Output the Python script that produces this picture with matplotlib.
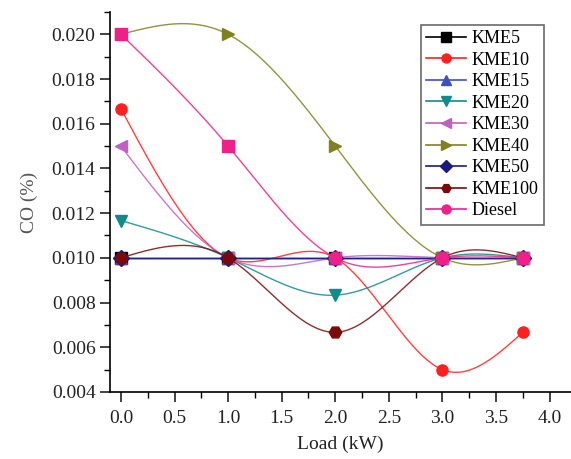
import numpy as np
import matplotlib.pyplot as plt
from matplotlib.ticker import MultipleLocator, FormatStrFormatter

# Load points (kW) and CO (%) values
load = [0.0, 1.0, 2.0, 3.0, 3.75]

kme5 = [0.010, 0.010, 0.010, 0.010, 0.010]
kme10 = [0.01667, 0.010, 0.010, 0.005, 0.00667]
kme15 = [0.010, 0.010, 0.010, 0.010, 0.010]
kme20 = [0.01167, 0.010, 0.00833, 0.010, 0.010]
kme30 = [0.015, 0.010, 0.010, 0.010, 0.010]
kme40 = [0.020, 0.020, 0.015, 0.010, 0.010]
kme50 = [0.010, 0.010, 0.010, 0.010, 0.010]
kme100 = [0.010, 0.010, 0.00667, 0.010, 0.010]
diesel = [0.020, 0.015, 0.010, 0.010, 0.010]

labels = ["KME5", "KME10", "KME15", "KME20", "KME30", "KME40", "KME50", "KME100", "Diesel"]
series = [kme5, kme10, kme15, kme20, kme30, kme40, kme50, kme100, diesel]
colors = ["#000000", "#FF2020", "#3F4FC0", "#108A8A", "#C060C0", "#808020", "#1A1A80", "#7A0A0A", "#F0208A"]
markers = ["s", "o", "^", "v", "<", ">", "D", "H", "o"]


def spline_curve(x, y, n=300):
    '''
    Natural cubic spline through the points, only for drawing the smooth line
    '''
    x = np.asarray(x, float)
    y = np.asarray(y, float)
    k = len(x)
    h = np.diff(x)
    A = np.zeros((k, k))
    b = np.zeros(k)
    A[0, 0] = 1
    A[-1, -1] = 1
    for i in range(1, k - 1):
        A[i, i - 1] = h[i - 1]
        A[i, i] = 2 * (h[i - 1] + h[i])
        A[i, i + 1] = h[i]
        b[i] = 6 * ((y[i + 1] - y[i]) / h[i] - (y[i] - y[i - 1]) / h[i - 1])
    m = np.linalg.solve(A, b)
    xs = np.linspace(x[0], x[-1], n)
    idx = np.clip(np.searchsorted(x, xs) - 1, 0, k - 2)
    x0, x1 = x[idx], x[idx + 1]
    hh = x1 - x0
    t0 = x1 - xs
    t1 = xs - x0
    ys = (m[idx] * t0**3 / (6 * hh) + m[idx + 1] * t1**3 / (6 * hh)
          + (y[idx] / hh - m[idx] * hh / 6) * t0
          + (y[idx + 1] / hh - m[idx + 1] * hh / 6) * t1)
    return xs, ys


plt.rcParams['font.family'] = ['Liberation Serif', 'DejaVu Serif']

fig = plt.figure(figsize=(5.71, 4.59), dpi=100)
ax = fig.add_axes([0.193, 0.146, 0.807, 0.828])

handles = []
for lab, yv, c, mk in zip(labels, series, colors, markers):
    xs, ys = spline_curve(load, yv)
    ax.plot(xs, ys, color=c, lw=1.0, alpha=0.85)
    if lab == "Diesel":
        ax.plot(load, yv, ls="none", marker="s", ms=8, color=c, markevery=[0, 1])
        ax.plot(load, yv, ls="none", marker="o", ms=9, color=c, markevery=[2, 3, 4])
    elif lab == "KME100":
        ax.plot(load, yv, ls="none", marker=mk, ms=9, color=c)
    else:
        ax.plot(load, yv, ls="none", marker=mk, ms=8, color=c)
    h, = ax.plot([], [], color=c, lw=1.2, marker=mk, ms=6.5, label=lab)
    handles.append(h)

ax.set_xlim(-0.1, 4.2)
ax.set_ylim(0.004, 0.021)
ax.xaxis.set_major_locator(MultipleLocator(0.5))
ax.xaxis.set_minor_locator(MultipleLocator(0.25))
ax.yaxis.set_major_locator(MultipleLocator(0.002))
ax.yaxis.set_minor_locator(MultipleLocator(0.001))
ax.xaxis.set_major_formatter(FormatStrFormatter("%.1f"))
ax.yaxis.set_major_formatter(FormatStrFormatter("%.3f"))

ax.spines['top'].set_visible(False)
ax.spines['right'].set_visible(False)
ax.spines['left'].set_linewidth(1.2)
ax.spines['bottom'].set_linewidth(1.2)
ax.tick_params(which='major', direction='out', length=7, width=1.2, labelsize=14, colors='#222222')
ax.tick_params(which='minor', direction='out', length=4, width=1.0)
ax.tick_params(axis='x', pad=6)

ax.set_xlabel("Load (kW)", fontsize=14, color='#222222', labelpad=6)
ax.set_ylabel("CO (%)", fontsize=14, color='#555555', labelpad=10)

leg = ax.legend(handles=handles, loc='upper right', bbox_to_anchor=(0.941, 0.966),
                fontsize=13, frameon=True, fancybox=False, edgecolor='#444444',
                handlelength=2.2, handletextpad=0.3, labelspacing=0.25,
                borderpad=0.3, borderaxespad=0)
leg.get_frame().set_linewidth(1.2)

fig.savefig("out.png", dpi=100)
